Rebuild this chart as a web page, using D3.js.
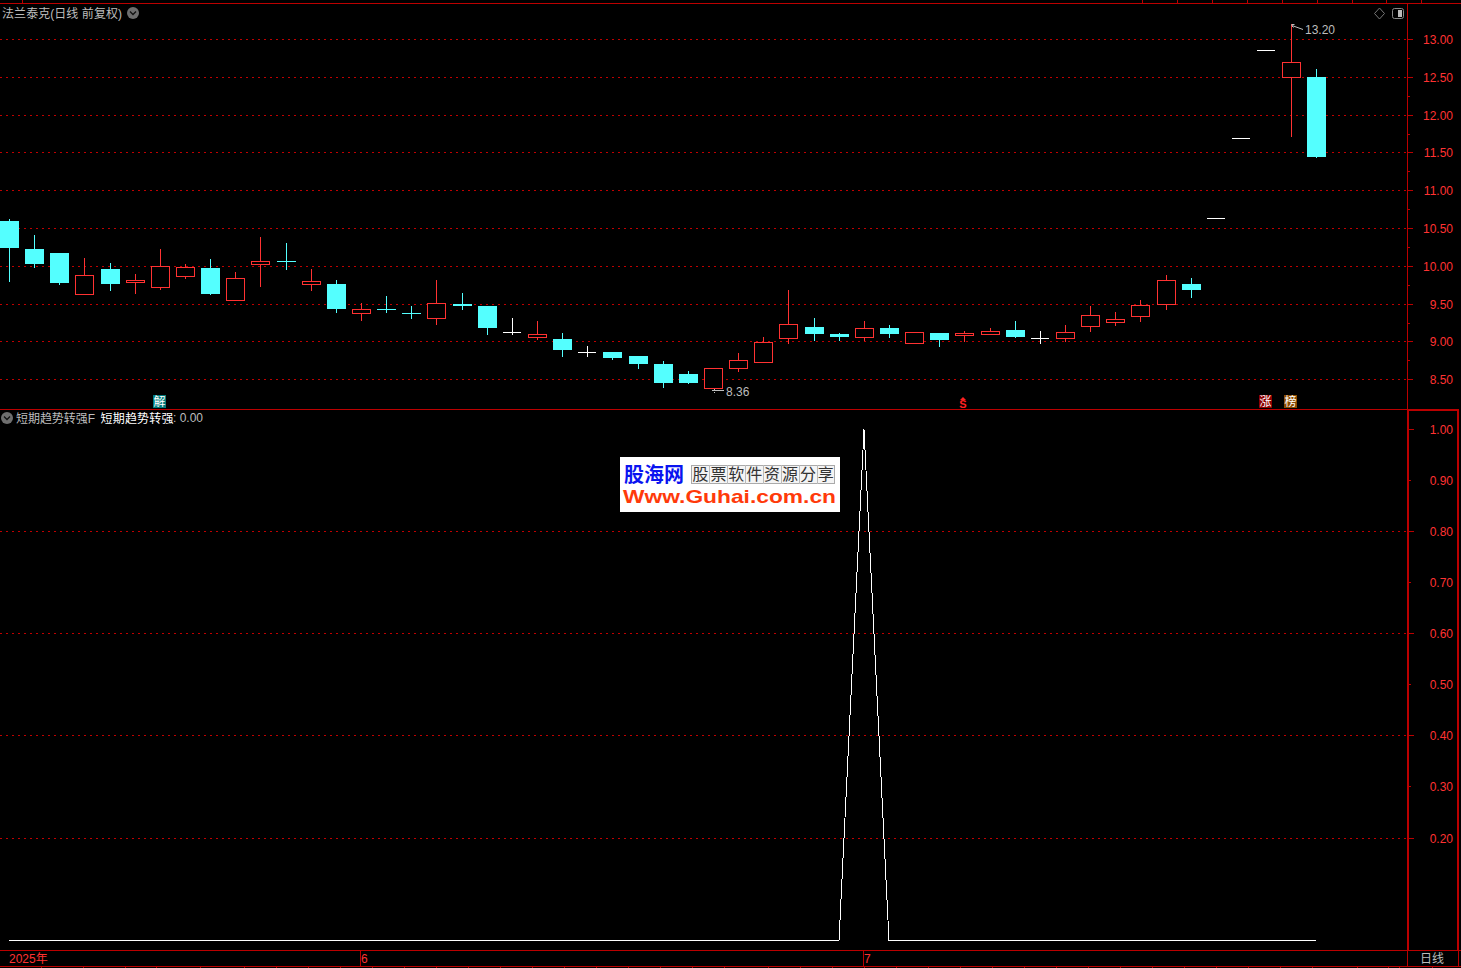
<!DOCTYPE html>
<html><head><meta charset="utf-8">
<style>
html,body{margin:0;padding:0;background:#000;overflow:hidden}
svg{display:block}
text{font-family:"Liberation Sans","Noto Sans CJK SC",sans-serif;font-size:12px}
</style>
<script src="https://cdn.jsdelivr.net/npm/d3@7/dist/d3.min.js"></script>
</head><body><svg id="c" width="1461" height="968"></svg>
<script>
// ---- data ----
const opens  = [10.60,10.23,10.17,9.64,9.96,9.79,9.72,9.87,9.98,9.56,10.03,10.07,9.76,9.76,9.38,9.44,9.38,9.31,9.50,9.47,9.13,9.07,9.04,8.86,8.86,8.82,8.71,8.57,8.39,8.65,8.74,9.05,9.20,9.11,9.06,9.19,8.99,9.12,9.09,9.10,9.16,9.05,9.05,9.21,9.26,9.34,9.50,9.77,10.64,11.70,12.86,12.50,12.50];
const closes = [10.24,10.03,9.78,9.88,9.77,9.82,10.01,9.99,9.64,9.84,10.07,10.06,9.81,9.44,9.44,9.43,9.37,9.51,9.47,9.18,9.13,9.10,8.89,8.86,8.79,8.71,8.46,8.46,8.66,8.76,9.00,9.24,9.10,9.06,9.18,9.10,9.13,9.02,9.12,9.15,9.07,9.05,9.13,9.36,9.30,9.49,9.82,9.68,10.64,11.70,12.86,12.70,11.44];
const highs  = [10.63,10.42,10.17,10.11,10.05,9.90,10.23,10.03,10.09,9.92,10.39,10.31,9.97,9.82,9.52,9.61,9.47,9.82,9.65,9.47,9.31,9.27,9.12,8.94,8.87,8.82,8.75,8.62,8.66,8.85,9.06,9.69,9.31,9.12,9.27,9.23,9.13,9.12,9.14,9.18,9.27,9.14,9.22,9.47,9.39,9.55,9.89,9.84,10.64,11.70,12.86,13.20,12.61];
const lows   = [9.81,9.99,9.76,9.64,9.68,9.65,9.70,9.84,9.64,9.56,9.74,9.96,9.69,9.39,9.29,9.39,9.31,9.24,9.44,9.10,9.11,9.04,8.82,8.82,8.77,8.65,8.41,8.46,8.39,8.61,8.74,8.98,9.03,9.02,9.03,9.06,8.99,8.95,9.01,9.10,9.06,8.98,9.01,9.14,9.23,9.28,9.44,9.59,10.64,11.70,12.86,11.73,11.44];
const indicator = [0,0,0,0,0,0,0,0,0,0,0,0,0,0,0,0,0,0,0,0,0,0,0,0,0,0,0,0,0,0,0,0,0,0,1,0,0,0,0,0,0,0,0,0,0,0,0,0,0,0,0,0,0];
const priceTicks = [13,12.5,12,11.5,11,10.5,10,9.5,9,8.5];
const priceMinor = [12.75,12.25,11.75,11.25,10.75,10.25,9.75,9.25,8.75];
const indTicks = [1,0.8,0.6,0.4,0.2];
const indMinor = [0.9,0.7,0.5,0.3];
const indLabels = [1,0.9,0.8,0.7,0.6,0.5,0.4,0.3,0.2];
const topTicks = [22,1142,1177,1212,1247,1282,1317,1352,1386,1421];
const bottomTicks = [41,83,125,156,200,244,276,308,340,372,404,436,468,500,532,564,596,628,660,692,724,768,800,832,864,896,928,960,992,1024,1056,1088,1120,1152,1184,1216,1248,1280,1312,1357,1388,1399,1432];
const monthLabels = [{x:9,t:"2025年",sep:false},{x:360,t:"6",sep:true},{x:863,t:"7",sep:true}];
const logoCells = ["股","票","软","件","资","源","分","享"];

const RED="#ff3232", LINE="#bb0000", GRID="#c00000", CYAN="#54ffff", GRAY="#bdbdbd";
const svg=d3.select("#c");
svg.append("rect").attr("width",1461).attr("height",968).attr("fill","#000");

const x=d3.scaleLinear().domain([0,52]).range([9,1316.4]);
const y=d3.scaleLinear().domain([13,8.5]).range([39.5,379.7]);
const yi=d3.scaleLinear().domain([1,0]).range([429.5,940.2]);
const snap=v=>Math.floor(v)+0.5;
const crisp=s=>s.attr("shape-rendering","crispEdges");

// frame
const frame=crisp(svg.append("g")).attr("fill","none");
const hl=(x1,x2,yy,c=LINE,w=1)=>frame.append("line").attr("x1",x1).attr("x2",x2).attr("y1",yy).attr("y2",yy).attr("stroke",c).attr("stroke-width",w);
const vl=(xx,y1,y2,c=LINE,w=1)=>frame.append("line").attr("x1",xx).attr("x2",xx).attr("y1",y1).attr("y2",y2).attr("stroke",c).attr("stroke-width",w);
hl(0,1461,3.5); hl(0,1408,409.5); hl(1407,1459,410,LINE,2);
hl(0,1461,950.5); hl(0,1461,966.5);
vl(1407.5,3,410); vl(1408,410,950,LINE,2); vl(1458,410,950,LINE,2); vl(1407.5,950,967); vl(1458.5,950,967);
topTicks.forEach(t=>vl(t+.5,0,3));
bottomTicks.forEach(t=>vl(t+.5,967,968));
monthLabels.filter(d=>d.sep).forEach(d=>vl(d.x+.5,951,966));

// grid
const grid=crisp(svg.append("g")).attr("stroke",GRID).attr("stroke-dasharray","2 4");
grid.selectAll(".a").data(priceTicks).join("line").attr("x1",0).attr("x2",1407).attr("y1",d=>snap(y(d))).attr("y2",d=>snap(y(d)));
grid.selectAll(".b").data(indTicks.slice(1)).join("line").attr("x1",0).attr("x2",1407).attr("y1",d=>snap(yi(d))).attr("y2",d=>snap(yi(d)));

// axes
function axis(scale,vals,size,labelled,tx){
  const a=d3.axisRight(scale).tickValues(vals).tickSize(size).tickSizeOuter(0).offset(0)
    .tickFormat(labelled?d3.format(".2f"):"");
  const g=svg.append("g").attr("transform",`translate(${tx},0)`).call(a);
  g.select(".domain").remove();
  g.selectAll(".tick").attr("transform",d=>`translate(0,${snap(scale(d))})`);
  g.selectAll("line").attr("stroke",LINE).attr("shape-rendering","crispEdges");
  g.selectAll("text").attr("x",1453-tx).attr("dy","0.36em").attr("text-anchor","end").attr("fill",RED)
    .style("font-family",'"Liberation Sans",sans-serif').style("font-size","12px");
  return g;
}
axis(y,priceTicks,6,true,1407);
axis(y,priceMinor,3,false,1407);
axis(yi,indTicks,6,false,1408);
axis(yi,indMinor,3,false,1408);
svg.append("g").selectAll("text").data(indLabels).join("text")
  .attr("x",1453).attr("y",d=>snap(yi(d))).attr("dy","0.36em").attr("text-anchor","end").attr("fill",RED)
  .text(d3.format(".2f"));

// candles
const idx=d3.range(opens.length);
const candles=crisp(svg.append("g"));
const colorOf=i=>closes[i]>opens[i]?RED:(closes[i]<opens[i]?CYAN:"#fff");
const cx=i=>Math.round(x(i));
const py=v=>Math.round(y(v));
candles.selectAll(".w").data(idx).join("line")
  .attr("x1",i=>cx(i)+.5).attr("x2",i=>cx(i)+.5)
  .attr("y1",i=>py(highs[i])).attr("y2",i=>py(lows[i])+1)
  .attr("stroke",colorOf);
candles.selectAll(".b").data(idx).join(enter=>enter.append("g")).each(function(i){
  const g=d3.select(this), o=opens[i], c=closes[i];
  const t=py(Math.max(o,c)), b=py(Math.min(o,c));
  if(c>o){
    g.append("rect").attr("x",cx(i)-8.5).attr("width",18).attr("y",t+.5).attr("height",Math.max(b-t,1))
      .attr("fill","#000").attr("stroke",RED);
  }else if(c<o){
    g.append("rect").attr("x",cx(i)-9).attr("width",19).attr("y",t).attr("height",Math.max(b-t,1))
      .attr("fill",CYAN);
  }else{
    g.append("line").attr("x1",cx(i)-9).attr("x2",cx(i)+9).attr("y1",t+.5).attr("y2",t+.5).attr("stroke","#fff");
  }
});

// indicator line
const line=d3.line().x(i=>cx(i)).y(i=>snap(yi(indicator[i])));
crisp(svg.append("path")).datum(idx).attr("d",line).attr("fill","none").attr("stroke","#fff");

// high / low annotations
const iHigh=d3.maxIndex(highs);
const note=svg.append("g").attr("fill",GRAY);
note.append("text").attr("x",cx(iHigh)+14).attr("y",py(13.20)+10).text("13.20");
note.append("path").attr("fill","none").attr("stroke",GRAY)
  .attr("d",`M${cx(iHigh)+.5},${py(13.2)+.5}h3M${cx(iHigh)+.5},${py(13.2)+1.5}l2,2M${cx(iHigh)+1},${py(13.2)+1.5}l11,4`);
const iLow=28;
note.append("text").attr("x",cx(iLow)+13).attr("y",396).text("8.36");
note.append("path").attr("fill","none").attr("stroke",GRAY).attr("shape-rendering","crispEdges")
  .attr("d",`M${cx(iLow)-1},390.5h12M${cx(iLow)+1},388.5v1M${cx(iLow)+1},391.5v1`);

// header text
const T=(xx,yy,s,c,extra)=>{const e=svg.append("text").attr("x",xx).attr("y",yy).attr("fill",c).text(s);if(extra)extra(e);return e;};
T(2,17.5,"法兰泰克(日线 前复权)",GRAY,e=>e.attr("textLength",120));
T(16,422.5,"短期趋势转强F",GRAY,e=>e.attr("textLength",79));
T(100.5,422.5,"短期趋势转强","#fff",e=>e.attr("textLength",73));
T(173,422,": 0.00",GRAY,e=>e.attr("textLength",30));
monthLabels.forEach(d=>T(d.sep?d.x+1:d.x,963,d.t,RED));
T(1420,962.5,"日线",GRAY);

// round icons
[[133,13],[7,418]].forEach(([a,b])=>{
  svg.append("circle").attr("cx",a).attr("cy",b).attr("r",6).attr("fill","#6e6e6e");
  svg.append("path").attr("d",`M${a-3},${b-1.5}l3,3l3,-3`).attr("fill","none").attr("stroke","#111").attr("stroke-width",1.3);
});
// diamond and panel icon
svg.append("path").attr("d","M1379.5,8l5,5.5l-5,5.5l-5,-5.5z").attr("fill","none").attr("stroke","#777");
svg.append("rect").attr("x",1392.5).attr("y",8.5).attr("width",11).attr("height",10).attr("rx",2).attr("fill","none").attr("stroke","#888");
svg.append("rect").attr("x",1398).attr("y",10).attr("width",4).attr("height",7).attr("fill","#bbb");

// event badges
[[153,"解","#007a7a"],[1259,"涨","#8c0000"],[1284,"榜","#8a4a00"]].forEach(([a,s,c])=>{
  svg.append("rect").attr("x",a).attr("y",395).attr("width",13).attr("height",13).attr("fill",c);
  svg.append("text").attr("x",a+6.5).attr("y",406).attr("text-anchor","middle").attr("fill","#fff").text(s);
});
svg.append("path").attr("d","M963,397l3,3h-6z").attr("fill","#ff2020");
svg.append("text").attr("x",963).attr("y",408).attr("text-anchor","middle").attr("fill","#ff2020")
  .style("font-weight","bold").style("font-size","11px").text("S");

// watermark logo
const lg=svg.append("g");
lg.append("rect").attr("x",620).attr("y",457).attr("width",220).attr("height",55).attr("fill","#fff");
lg.append("text").attr("x",624).attr("y",482).attr("fill","#0a14f0").style("font-size","20px").style("font-weight","bold").attr("textLength",60).text("股海网");
crisp(lg.append("rect")).attr("x",691.5).attr("y",465.5).attr("width",143).attr("height",18).attr("fill","#f4f4f4").attr("stroke","#aaa");
logoCells.forEach((s,i)=>{
  if(i) crisp(lg.append("line")).attr("x1",691.5+i*18).attr("x2",691.5+i*18).attr("y1",465).attr("y2",484).attr("stroke","#bbb");
  lg.append("text").attr("x",700.5+i*17.9).attr("y",480).attr("text-anchor","middle").attr("fill","#333").style("font-size","16px").text(s);
});
lg.append("text").attr("x",623).attr("y",503).attr("fill","#ff3a0a").style("font-size","19px").style("font-weight","bold").attr("textLength",213).attr("lengthAdjust","spacingAndGlyphs").text("Www.Guhai.com.cn");
</script></body></html>
